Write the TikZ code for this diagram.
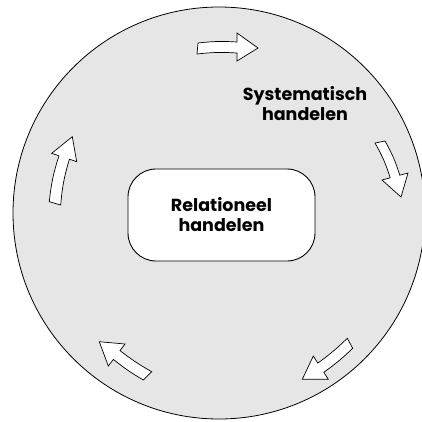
\documentclass[tikz,border=0pt]{standalone}
\usepackage{fontspec}
\setmainfont{Poppins}
\newfontfamily\pbold{Poppins Bold}
\definecolor{circlegray}{HTML}{E6E6E6}
\begin{document}
\begin{tikzpicture}[x=1pt,y=-1pt,
  blockarrow/.style={draw=black, fill=white, line width=0.7pt, line join=miter},
  lbl/.style={font=\pbold\fontsize{17.5}{20}\selectfont, align=center, text=black, inner sep=0pt},
  relbox/.style={draw=black, fill=white, line width=0.9pt, rounded corners=28pt,
    minimum width=187pt, minimum height=92pt, align=center,
    font=\pbold\fontsize{17.5}{20}\selectfont}]
\useasboundingbox (0,0) rectangle (422,421);
\fill[white] (0,0) rectangle (422,421);
\draw[fill=circlegray, line width=0.8pt] (219,213) circle[radius=206pt];
\node[relbox] (rel) at (221.5,215) {Relationeel\\handelen};
\node[lbl] (sys) at (305,104) {Systematisch\\handelen};
% top arrow
\draw[blockarrow] (198,43) to[bend left=5] (237,42) -- (237,33) -- (258,48) -- (237,61) -- (237,53) to[bend right=5] (197,54) -- cycle;
% right arrow
\draw[blockarrow] (385,141) to[bend left=6] (399.8,175.2) -- (408,173) -- (401,197) -- (382,180) -- (390.2,177.8) to[bend right=6] (375,143) -- cycle;
% left arrow
\draw[blockarrow] (49.3,201.7) to[bend left=6] (59,155.8) -- (51.7,153.3) -- (72.3,136.7) -- (76.7,161.7) -- (69.4,159.2) to[bend right=6] (60.7,205) -- cycle;
% bottom-left arrow
\draw[blockarrow] (143.3,380) to[bend left=4] (113.4,359.4) -- (108.3,366) -- (99.3,341.7) -- (125,344) -- (120,350.6) to[bend right=4] (151.7,371.7) -- cycle;
% bottom-right arrow
\draw[blockarrow] (352.7,348.3) to[bend left=4] (323.8,372.3) -- (328.3,379.3) -- (302.3,379.3) -- (313.3,356) -- (317.8,363.1) to[bend right=4] (347.3,338.3) -- cycle;
\end{tikzpicture}
\end{document}
